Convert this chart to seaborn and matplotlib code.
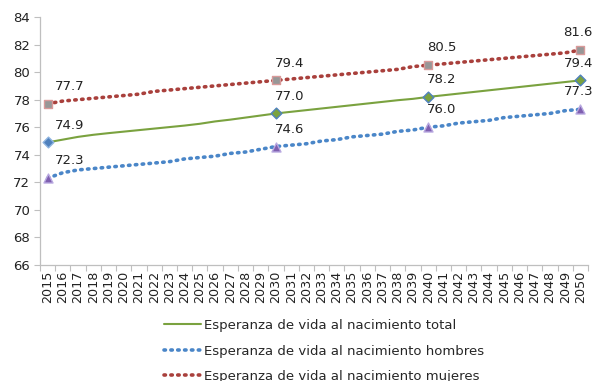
import matplotlib
matplotlib.use("Agg")
import matplotlib.pyplot as plt
import seaborn as sns
import pandas as pd

years = list(range(2015, 2051))

total = [74.9, 75.1, 75.3, 75.45, 75.57, 75.68, 75.79, 75.9, 76.01, 76.12, 76.25, 76.42, 76.55, 76.7, 76.85, 77.0,
         77.12, 77.24, 77.36, 77.48, 77.6, 77.72, 77.84, 77.96, 78.06, 78.2,
         78.32, 78.44, 78.56, 78.68, 78.8, 78.92, 79.04, 79.16, 79.28, 79.4]
hombres = [72.3, 72.7, 72.9, 73.0, 73.1, 73.2, 73.3, 73.4, 73.5, 73.7, 73.8, 73.9, 74.1, 74.2, 74.4, 74.6,
           74.7, 74.8, 75.0, 75.1, 75.3, 75.4, 75.5, 75.7, 75.8, 76.0,
           76.1, 76.3, 76.4, 76.5, 76.7, 76.8, 76.9, 77.0, 77.2, 77.3]
mujeres = [77.7, 77.9, 78.0, 78.1, 78.2, 78.3, 78.4, 78.6, 78.7, 78.8, 78.9, 79.0, 79.1, 79.2, 79.3, 79.4,
           79.5, 79.6, 79.7, 79.8, 79.9, 80.0, 80.1, 80.2, 80.4, 80.5,
           80.6, 80.7, 80.8, 80.9, 81.0, 81.1, 81.2, 81.3, 81.4, 81.6]

labels = ["Esperanza de vida al nacimiento total",
          "Esperanza de vida al nacimiento hombres",
          "Esperanza de vida al nacimiento mujeres"]
marked_years = [2015, 2030, 2040, 2050]

df = pd.DataFrame({"year": years * 3,
                   "value": total + hombres + mujeres,
                   "serie": [labels[0]] * 36 + [labels[1]] * 36 + [labels[2]] * 36})

sns.set_theme(style="white")
plt.rcParams["font.family"] = ["DejaVu Sans"]

fig = plt.figure(figsize=(5.95, 3.81), dpi=100)
ax = fig.add_axes([40 / 595, 1 - 265 / 381, 548 / 595, 248 / 381])

styles = {
    labels[0]: dict(color="#7aa23f", lw=1.5, ls="-"),
    labels[1]: dict(color="#4a86c8", lw=2.6, ls=(0, (0.4, 1.5))),
    labels[2]: dict(color="#a9403c", lw=2.6, ls=(0, (0.4, 1.5))),
}
for name in labels:
    st = styles[name]
    sns.lineplot(data=df[df["serie"] == name], x="year", y="value", ax=ax,
                 color=st["color"], linewidth=st["lw"], linestyle=st["ls"],
                 label=name, dash_capstyle="round", solid_capstyle="round")

# markers at the highlighted years
marker_specs = {
    labels[0]: dict(marker="D", s=30, fc=["#4f81bd", "#7aa23f", "#7aa23f", "#7aa23f"],
                    ec=["#8fb4e0", "#4f81bd", "#4f81bd", "#4f81bd"]),
    labels[1]: dict(marker="^", s=42, fc=["#7f5fb0"] * 4, ec=["#b8a8e0"] * 4),
    labels[2]: dict(marker="s", s=38, fc=["#979797"] * 4, ec=["#d99a9a"] * 4),
}
series_vals = {labels[0]: total, labels[1]: hombres, labels[2]: mujeres}
for name in labels:
    spec = marker_specs[name]
    vals = series_vals[name]
    for i, yr in enumerate(marked_years):
        v = vals[years.index(yr)]
        ax.scatter([yr], [v], marker=spec["marker"], s=spec["s"], facecolor=spec["fc"][i],
                   edgecolor=spec["ec"][i], linewidth=1.0, zorder=5)
        if yr == 2015:
            dx, ha = 5, "left"
        elif yr == 2050:
            dx, ha = -1.5, "center"
        else:
            dx, ha = -1, "left"
        ax.annotate(f"{v:.1f}", (yr, v), xytext=(dx, 12.5), textcoords="offset points",
                    ha=ha, va="center", fontsize=9.5, color="#222222", annotation_clip=False)

ax.set_xlim(2014.5, 2050.5)
ax.set_ylim(66, 84)
ax.set_yticks(range(66, 85, 2))
ax.set_xticks(years)
ax.set_xticklabels([str(y) for y in years], rotation=90, fontsize=9.2, color="#222222")
ax.tick_params(axis="y", labelsize=9.5, labelcolor="#222222", length=4, width=0.8,
               color="#bfbfbf", left=True, pad=3)
ax.tick_params(axis="x", length=0, pad=4)
# boundary ticks between categories
ax.set_xticks([y + 0.5 for y in [2014] + years], minor=True)
ax.tick_params(axis="x", which="minor", length=4, width=0.8, color="#bfbfbf", bottom=True)
ax.set_xlabel("")
ax.set_ylabel("")
for side in ["top", "right"]:
    ax.spines[side].set_visible(False)
for side in ["left", "bottom"]:
    ax.spines[side].set_color("#bfbfbf")
    ax.spines[side].set_linewidth(0.9)

ax.get_legend().remove()
handles, lbls = ax.get_legend_handles_labels()
fig.legend(handles[:3], lbls[:3], loc="upper left", bbox_to_anchor=(164 / 595, 1 - 319 / 381),
           frameon=False, fontsize=9.5, labelspacing=0.95, handlelength=2.8,
           handletextpad=0.25, borderaxespad=0, borderpad=0)

fig.savefig("out.png", dpi=100)
